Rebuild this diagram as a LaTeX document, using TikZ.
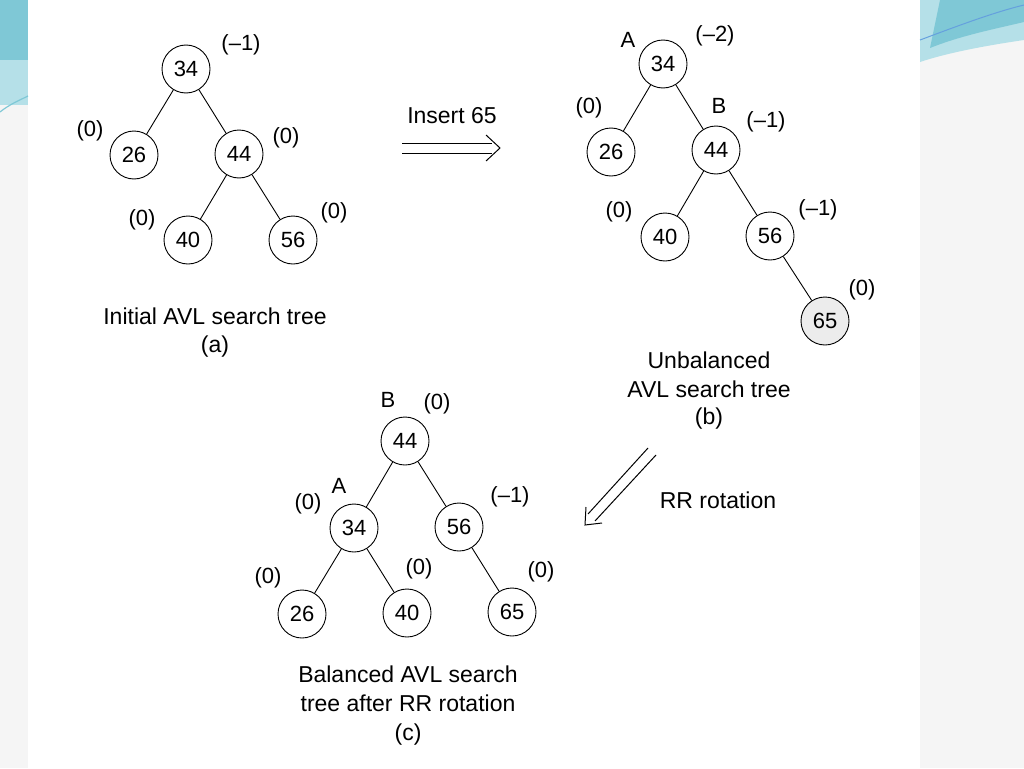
\documentclass[tikz,border=0pt]{standalone}
\usepackage{fontspec}
\setmainfont{Liberation Sans}
\definecolor{teal1}{HTML}{7FC8D6}
\definecolor{teal2}{HTML}{B5E0E8}
\begin{document}
\begin{tikzpicture}[x=1pt,y=-1pt,
  n/.style={circle,draw,line width=0.9pt,minimum size=48pt,inner sep=0pt,font=\fontsize{22}{22}\selectfont},
  l/.style={font=\fontsize{22}{22}\selectfont,inner sep=0pt},
  captxt/.style={font=\fontsize{23}{23}\selectfont,inner sep=0pt},
  e/.style={line width=0.9pt},
  ar/.style={line width=1pt}]
\useasboundingbox (0,0) rectangle (1024,768);
\fill[gray!8] (0,0) rectangle (1024,768);
\fill[white] (28,0) rectangle (920,768);
% corner decorations
\fill[teal2] (0,0) rectangle (28,105);
\fill[teal1] (0,0) rectangle (28,60);
\draw[teal1,line width=1.2pt] (0,112) .. controls (10,104) and (20,100) .. (28,96);
\fill[teal2] (920,0) -- (1024,0) -- (1024,40) .. controls (990,45) and (950,52) .. (920,62) -- cycle;
\fill[teal1] (940,0) -- (1024,0) -- (1024,22) .. controls (990,30) and (960,36) .. (930,48) -- cycle;
\draw[teal1!80!blue,line width=1pt] (920,40) .. controls (960,25) and (995,12) .. (1024,5);
% (a)
\node[n] (a34) at (186,69) {34};
\node[n] (a26) at (134,155) {26};
\node[n] (a44) at (239,154) {44};
\node[n] (a40) at (188,240) {40};
\node[n] (a56) at (293,240) {56};
\draw[e] (a34)--(a26); \draw[e] (a34)--(a44); \draw[e] (a44)--(a40); \draw[e] (a44)--(a56);
\node[l] (la1) at (241,45) {(--1)};
\node[l] (la2) at (90,131) {(0)};
\node[l] (la3) at (286,138) {(0)};
\node[l] (la4) at (142,220) {(0)};
\node[l] (la5) at (334,213) {(0)};
\node[captxt] (ca1) at (215,316) {Initial AVL search tree};
\node[captxt] (ca2) at (215,347) {(a)};
% insert arrow
\node[captxt] (ins) at (452,116) {Insert 65};
\coordinate (i1) at (402,143); \coordinate (i2) at (492,143);
\coordinate (i3) at (402,153); \coordinate (i4) at (492,153);
\coordinate (ih1) at (486,135); \coordinate (iht) at (500,148); \coordinate (ih2) at (486,161);
\draw[ar] (i1)--(i2); \draw[ar] (i3)--(i4);
\draw[ar] (ih1)--(iht)--(ih2);
% (b)
\node[n] (b34) at (663,64) {34};
\node[n] (b26) at (611,152) {26};
\node[n] (b44) at (716,150) {44};
\node[n] (b40) at (665,237) {40};
\node[n] (b56) at (770,236) {56};
\node[n,fill=gray!15] (b65) at (825,321) {65};
\draw[e] (b34)--(b26); \draw[e] (b34)--(b44); \draw[e] (b44)--(b40); \draw[e] (b44)--(b56); \draw[e] (b56)--(b65);
\node[l] (lb0) at (628,40) {A};
\node[l] (lb1) at (715,36) {(--2)};
\node[l] (lb2) at (589,108) {(0)};
\node[l] (lb3) at (719,106) {B};
\node[l] (lb4) at (766,122) {(--1)};
\node[l] (lb5) at (619,212) {(0)};
\node[l] (lb6) at (818,210) {(--1)};
\node[l] (lb7) at (862,290) {(0)};
\node[captxt] (cb1) at (709,360) {Unbalanced};
\node[captxt] (cb2) at (709,389) {AVL search tree};
\node[captxt] (cb3) at (709,419) {(b)};
% RR arrow
\coordinate (r1) at (656,455); \coordinate (r2) at (595,521);
\coordinate (r3) at (648,448); \coordinate (r4) at (588,514);
\coordinate (rh1) at (602,523); \coordinate (rht) at (585,525); \coordinate (rh2) at (586,507);
\draw[ar] (r1)--(r2); \draw[ar] (r3)--(r4);
\draw[ar] (rh1)--(rht)--(rh2);
\node[captxt] (rr) at (718,500) {RR rotation};
% (c)
\node[n] (c44) at (405,441) {44};
\node[n] (c34) at (354,528) {34};
\node[n] (c56) at (459,527) {56};
\node[n] (c26) at (302,614) {26};
\node[n] (c40) at (407,613) {40};
\node[n] (c65) at (512,612) {65};
\draw[e] (c44)--(c34); \draw[e] (c44)--(c56); \draw[e] (c34)--(c26); \draw[e] (c34)--(c40); \draw[e] (c56)--(c65);
\node[l] (lc0) at (388,400) {B};
\node[l] (lc1) at (437,404) {(0)};
\node[l] (lc2) at (308,504) {(0)};
\node[l] (lc3) at (339,486) {A};
\node[l] (lc4) at (510,497) {(--1)};
\node[l] (lc5) at (268,578) {(0)};
\node[l] (lc6) at (419,569) {(0)};
\node[l] (lc7) at (541,572) {(0)};
\node[captxt] (cc1) at (408,674) {Balanced AVL search};
\node[captxt] (cc2) at (408,703) {tree after RR rotation};
\node[captxt] (cc3) at (408,735) {(c)};
\end{tikzpicture}
\end{document}
